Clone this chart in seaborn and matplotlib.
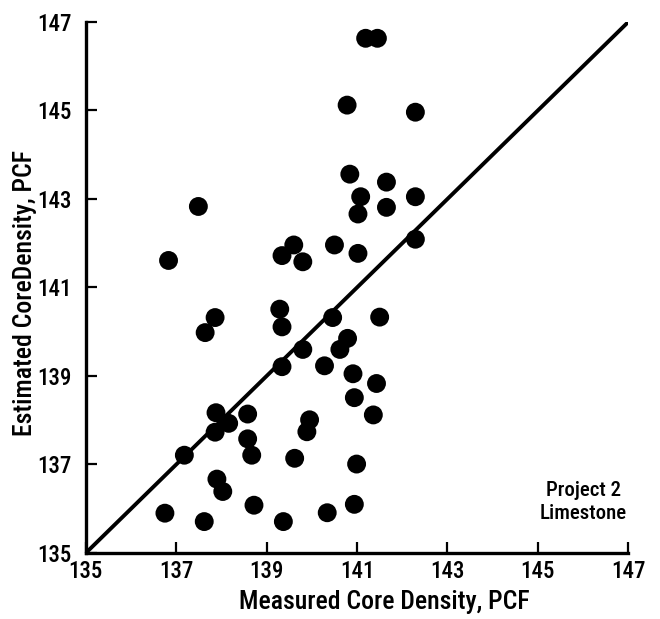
import matplotlib
matplotlib.use("Agg")
import matplotlib.pyplot as plt
import seaborn as sns
import pandas as pd
from matplotlib import font_manager

sns.set_style("ticks")
names = sorted({f.name for f in font_manager.fontManager.ttflist})
cands = ['Roboto Condensed', 'IBM Plex Sans Condensed', 'Fira Sans Condensed',
         'Liberation Sans', 'DejaVu Sans']
fam = [f for f in cands if f in names]
plt.rcParams['font.family'] = [fam[0], 'DejaVu Sans']
plt.rcParams['text.color'] = 'black'
plt.rcParams['axes.labelcolor'] = 'black'

measured = [136.83, 137.49, 139.34, 139.60, 139.80, 140.50, 141.02, 140.78, 140.84, 141.08,
            141.02, 141.19, 141.45, 142.29, 141.65, 141.65, 142.29, 142.29, 137.86, 137.64,
            139.29, 139.34, 140.46, 141.50, 139.80, 139.34, 140.79, 140.62, 140.28, 140.91,
            141.43, 140.94, 141.36, 137.88, 138.16, 137.86, 138.58, 138.58, 138.67, 137.18,
            139.95, 139.89, 139.62, 140.99, 137.90, 138.03, 136.75, 137.62, 138.72, 139.37,
            140.34, 140.94]
estimated = [141.61, 142.83, 141.72, 141.96, 141.58, 141.96, 141.77, 145.12, 143.56, 143.05,
             142.66, 146.63, 146.63, 144.96, 143.38, 142.81, 143.05, 142.09, 140.32, 139.98,
             140.51, 140.11, 140.32, 140.33, 139.60, 139.21, 139.85, 139.60, 139.23, 139.05,
             138.83, 138.51, 138.12, 138.17, 137.93, 137.73, 138.14, 137.58, 137.21, 137.21,
             138.01, 137.74, 137.14, 137.01, 136.67, 136.39, 135.90, 135.71, 136.08, 135.71,
             135.91, 136.10]
line_vals = [135, 147]
ticks = [135, 137, 139, 141, 143, 145, 147]
tick_labels = ["135", "137", "139", "141", "143", "145", "147"]

df = pd.DataFrame({"measured": measured, "estimated": estimated})

fig = plt.figure(figsize=(6.6, 6.19), dpi=100)
ax = fig.add_axes([0.130, 0.1066, 0.822, 0.858])

sns.lineplot(x=line_vals, y=line_vals, color="black", linewidth=2.8, ax=ax)
sns.scatterplot(data=df, x="measured", y="estimated", color="black", s=185,
                edgecolor="none", ax=ax, zorder=3)

ax.set_xlim(135, 147)
ax.set_ylim(135, 147)
ax.set_xticks(ticks)
ax.set_xticklabels(tick_labels, fontweight="medium")
ax.set_yticks(ticks)
ax.set_yticklabels(tick_labels, fontweight="medium")
ax.tick_params(direction="in", length=8, width=1.6, labelsize=16.5, colors="black", pad=5)
ax.tick_params(axis="y", pad=10)
for s in ["top", "right"]:
    ax.spines[s].set_visible(False)
for s in ["left", "bottom"]:
    ax.spines[s].set_linewidth(2.4)
    ax.spines[s].set_color("black")

ax.set_xlabel("Measured Core Density, PCF", fontsize=18.5, labelpad=5,
              fontweight="medium", x=0.55)
ax.set_ylabel("Estimated CoreDensity, PCF", fontsize=18.5, labelpad=0.5,
              fontweight="medium", y=0.49)
ax.text(146.0, 136.15, "Project 2\nLimestone", ha="center", va="center",
        fontsize=15, linespacing=1.25, fontweight="medium")

fig.savefig("out.png", dpi=100)
